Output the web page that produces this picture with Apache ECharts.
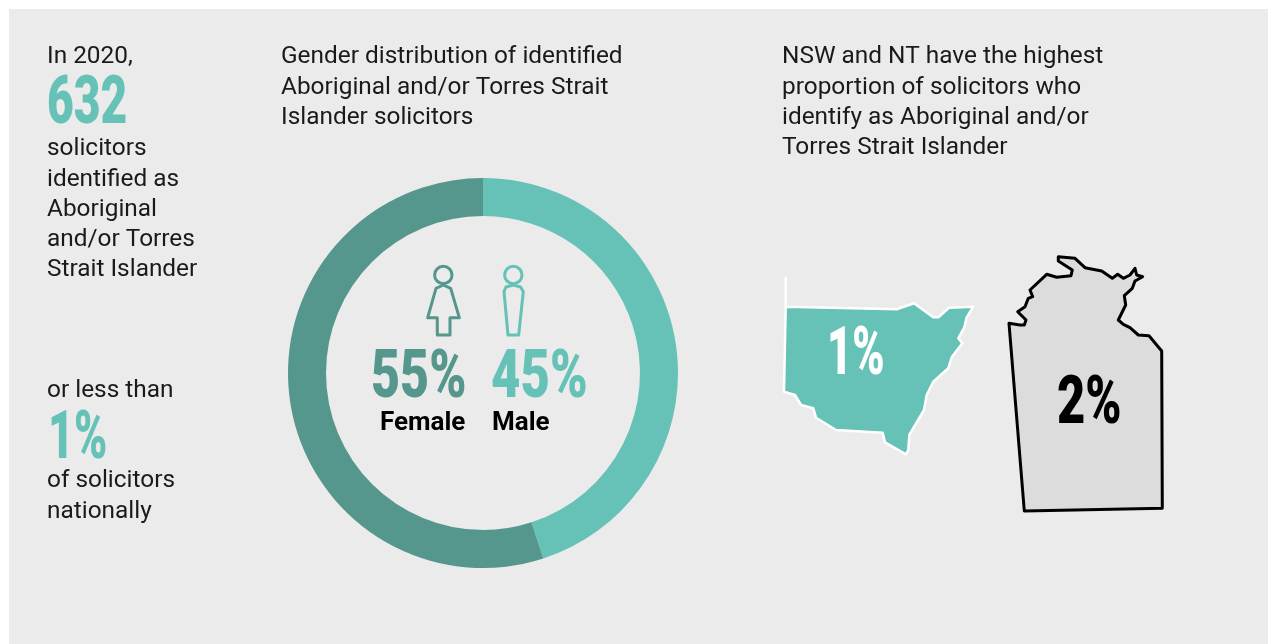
<!DOCTYPE html>
<html>
<head>
<meta charset="utf-8">
<style>
  html, body { margin: 0; padding: 0; background: #fff; }
  #main { width: 1269px; height: 644px; }
</style>
<script src="https://cdn.jsdelivr.net/npm/echarts@6/dist/echarts.min.js"></script>
</head>
<body>
<div id="main"></div>
<script>
  var solicitorCount = 632;
  var nationalShare = 1;
  var genders = ['Male', 'Female'];
  var genderShares = [45, 55];
  var regions = ['NSW', 'NT'];
  var regionShares = [1, 2];

  // state outlines
  var nswOutline = [[785.7,277.7],[785.7,306.7],[896.7,309.3],[914,303.3],[933.3,317.3],[938.3,317.3],[949,307.7],[973.3,306.7],[966.7,317.3],[964.3,327.3],[958.3,338.3],[962.3,343.3],[951.7,357.3],[948.3,368.3],[933.3,381.7],[926.7,395],[924,410],[909.3,435],[908.3,450],[906,454.3],[885,442.3],[882.7,432.7],[836,430],[816,417.7],[813.3,408.3],[801,405],[795,395],[784,391.7],[785.7,306.7]];
  var ntOutline = [[1009,323.3],[1020,325],[1024.3,325],[1026,320],[1017.7,311.7],[1025,306.7],[1028.3,298.3],[1032.7,296.7],[1030,290],[1046.7,274.3],[1056.7,277.3],[1071,275.7],[1072.3,270],[1058.3,261],[1058.3,256.7],[1075,258.3],[1085,267.7],[1101.7,271],[1112.3,278.3],[1117.7,274.3],[1123.3,278.3],[1130,275],[1135,268.3],[1136.7,275],[1142.7,276.7],[1135,281],[1132.3,288.3],[1124.3,295.7],[1125.7,305],[1118.3,320],[1123.3,324.3],[1130,327.7],[1138.3,335],[1149,335.7],[1161.7,351],[1162.3,508.3],[1024.3,511],[1009,323.3]];

  var teal = '#66c2b7';
  var darkTeal = '#55978c';
  var ink = '#1a1a1a';
  var bodyFont = 'Roboto';

  function text(content, left, top) {
    return {
      text: content,
      left: left,
      top: top,
      padding: 0,
      textStyle: { color: ink, fontSize: 24.4, fontWeight: 'normal', fontFamily: bodyFont, lineHeight: 30.3 }
    };
  }

  function boldLabel(content, left) {
    return {
      text: content,
      left: left,
      top: 408,
      padding: 0,
      textStyle: { color: '#000000', fontSize: 26, fontWeight: 'bold', fontFamily: bodyFont, lineHeight: 30 }
    };
  }

  // no condensed face is installed, so the big figures are squeezed roboto
  function bigFigure(content, x, y, color, squeeze) {
    return {
      type: 'text',
      silent: true,
      z: 100,
      x: x,
      y: y,
      scaleX: squeeze,
      style: {
        text: content,
        fill: color,
        fontSize: 66,
        fontWeight: 900,
        fontFamily: bodyFont,
        textAlign: 'left',
        verticalAlign: 'middle'
      }
    };
  }

  echarts.registerMap('states', {
    type: 'FeatureCollection',
    features: [
      { type: 'Feature', properties: { name: 'NSW' }, geometry: { type: 'Polygon', coordinates: [nswOutline] } },
      { type: 'Feature', properties: { name: 'NT' }, geometry: { type: 'Polygon', coordinates: [ntOutline] } }
    ]
  });

  var chartDom = document.getElementById('main');
  var myChart = echarts.init(chartDom, null, { renderer: 'canvas' });

  var option = {
    animation: false,
    backgroundColor: '#ffffff',
    title: [
      text('In 2020,', 47, 42),
      text('solicitors\nidentified as\nAboriginal\nand/or Torres\nStrait Islander', 47, 134),
      text('or less than', 47, 376),
      text('of solicitors\nnationally', 47, 466),
      text('Gender distribution of identified\nAboriginal and/or Torres Strait\nIslander solicitors', 281, 42),
      text('NSW and NT have the highest\nproportion of solicitors who\nidentify as Aboriginal and/or\nTorres Strait Islander', 782, 42),
      boldLabel(genders[1], 380),
      boldLabel(genders[0], 492)
    ],
    graphic: [
      { type: 'rect', z: -10, silent: true, shape: { x: 9, y: 9, width: 1259, height: 635 }, style: { fill: '#ebebeb' } },
      { type: 'circle', shape: { cx: 443.3, cy: 275, r: 8.7 }, style: { fill: 'none', stroke: darkTeal, lineWidth: 3 } },
      { type: 'polygon', shape: { points: [[443.3,285],[436,288.3],[427.7,317.7],[437.3,317.7],[437.3,335],[450,335],[450,317.7],[459.3,317.7],[450.7,288.3]] }, style: { fill: 'none', stroke: darkTeal, lineWidth: 3, lineJoin: 'round' } },
      { type: 'circle', shape: { cx: 513.3, cy: 275, r: 8.7 }, style: { fill: 'none', stroke: teal, lineWidth: 3 } },
      { type: 'polygon', shape: { points: [[513.3,285],[506,287],[504,291.7],[508,335],[518.7,335],[523.3,291.7],[520.6,287]] }, style: { fill: 'none', stroke: teal, lineWidth: 3, lineJoin: 'round' } },
      bigFigure(String(solicitorCount), 47, 106, teal, 0.7),
      bigFigure(nationalShare + '%', 48, 441, teal, 0.68),
      bigFigure(genderShares[1] + '%', 371, 380, darkTeal, 0.76),
      bigFigure(genderShares[0] + '%', 491, 380, teal, 0.77),
      bigFigure(regionShares[0] + '%', 827, 357, '#ffffff', 0.66),
      bigFigure(regionShares[1] + '%', 1057, 406, '#000000', 0.74)
    ],
    series: [
      {
        type: 'pie',
        silent: true,
        center: [483, 373],
        radius: [157, 195],
        startAngle: 90,
        clockwise: true,
        label: { show: false },
        labelLine: { show: false },
        data: genders.map(function (g, i) {
          return { name: g, value: genderShares[i], itemStyle: { color: i === 0 ? teal : darkTeal } };
        })
      },
      {
        type: 'map',
        map: 'states',
        silent: true,
        projection: {
          project: function (p) { return p; },
          unproject: function (p) { return p; }
        },
        left: 784,
        top: 256.7,
        width: 378.3,
        height: 254.3,
        label: { show: false },
        data: regions.map(function (r, i) {
          var isNsw = r === 'NSW';
          return {
            name: r,
            value: regionShares[i],
            itemStyle: {
              areaColor: isNsw ? teal : '#dcdcdc',
              borderColor: isNsw ? '#ffffff' : '#000000',
              borderWidth: isNsw ? 2.5 : 3,
              borderJoin: 'round'
            }
          };
        })
      }
    ]
  };

  option && myChart.setOption(option);
</script>
</body>
</html>
